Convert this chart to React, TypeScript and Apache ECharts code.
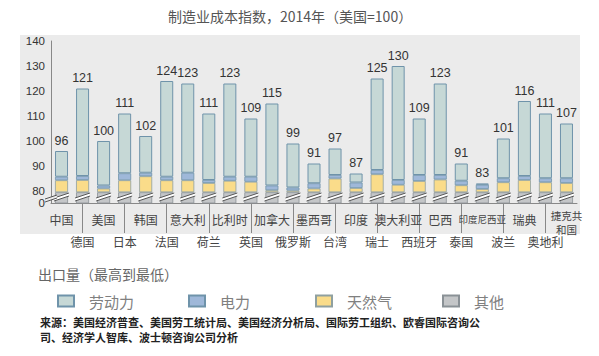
import React, { useEffect, useRef } from "react";
import * as echarts from "echarts";

const categories = ["中国", "德国", "美国", "日本", "韩国", "法国", "意大利", "荷兰", "比利时", "英国", "加拿大", "俄罗斯", "墨西哥", "台湾", "印度", "瑞士", "澳大利亚", "西班牙", "巴西", "泰国", "印度尼西亚", "波兰", "瑞典", "奥地利", "捷克共和国"];
const totals = [96, 121, 100, 111, 102, 124, 123, 111, 123, 109, 115, 99, 91, 97, 87, 125, 130, 109, 123, 91, 83, 101, 116, 111, 107];
const otherCost = [79.5, 79.5, 79.5, 79.5, 79.5, 79.5, 79.5, 79.5, 79.5, 79.5, 79.5, 79.5, 79.5, 79.5, 79.5, 79.5, 79.5, 79.5, 79.5, 79.5, 79.5, 79.5, 79.5, 79.5, 79.5];
const gasCost = [4.8, 4.9, 1.5, 4.8, 6.4, 4.8, 4.8, 3.7, 4.6, 4.2, 0.8, 0.7, 1.5, 5.5, 1.7, 7.2, 3.0, 4.5, 5.1, 2.8, 1.3, 4.0, 4.9, 4.0, 3.7];
const electricityCost = [1.4, 1.6, 1.2, 2.8, 1.4, 1.4, 3.0, 1.2, 1.6, 2.0, 1.9, 1.2, 2.1, 1.4, 2.2, 1.7, 1.9, 2.4, 1.8, 1.8, 1.7, 1.6, 1.6, 1.6, 1.9];
const yTicks = [80, 90, 100, 110, 120, 130, 140];
const yBreakLabel = "0";
const yBreakLabelValue = 75.4;
const breakMarkValue = 77.6;
const seriesNames = ["劳动力", "电力", "天然气", "其他"];

const title = "制造业成本指数，2014年（美国=100）";
const subTitle = "出口量（最高到最低）";
const sourceText = "来源：美国经济普查、美国劳工统计局、美国经济分析局、国际劳工组织、欧睿国际咨询公\n司、经济学人智库、波士顿咨询公司分析";

const laborCost = totals.map((t, i) => +(t - otherCost[i] - gasCost[i] - electricityCost[i]).toFixed(2));

const CJK = '"Noto Sans CJK SC", "Liberation Sans", sans-serif';
const NUM = '"Liberation Sans Narrow", "Liberation Sans", Arial, sans-serif';

export default function App() {
  const ref = useRef<HTMLDivElement>(null);
  useEffect(() => {
    if (!ref.current) return;
    const chart = echarts.init(ref.current, null, { renderer: "svg" });
    const border = "#6f93aa";
    const barW = 13;
    const legendLefts = [57, 188, 315, 442];
    const yMin = 75.2;
    const yMax = 140;
    const yLabelStyle = { fontFamily: NUM, fontSize: 11.5, lineHeight: 11, color: "#333", margin: 6 };
    const option: any = {
      animation: false,
      backgroundColor: "#ffffff",
      title: {
        text: title,
        left: 163,
        top: 4,
        textStyle: { fontFamily: CJK, fontSize: 14, fontWeight: "normal", color: "#555" },
      },
      graphic: [
        {
          type: "rect",
          z: -10,
          zlevel: 0,
          shape: { x: 20, y: 35, width: 560, height: 199 },
          style: { fill: "#ebebeb" },
          silent: true,
        },
        {
          type: "text",
          left: 38,
          top: 267,
          style: { text: subTitle, fontFamily: CJK, fontSize: 14, fill: "#666" },
        },
        {
          type: "text",
          left: 40,
          top: 314,
          style: { text: sourceText, fontFamily: CJK, fontSize: 11, lineHeight: 15, fill: "#222", fontWeight: "bold" },
        },
      ],
      legend: seriesNames.map((n, i) => ({
        data: [n],
        left: legendLefts[i],
        top: 293,
        padding: 0,
        itemWidth: 16,
        itemHeight: 11,
        icon: "rect",
        textStyle: { fontFamily: CJK, fontSize: 15, lineHeight: 16, color: "#808080", padding: [0, 0, 0, 10] },
      })),
      grid: { left: 51, right: 22, top: 41, bottom: 153, containLabel: false },
      xAxis: [
        {
          type: "category",
          data: categories,
          axisLine: { lineStyle: { color: "#888", width: 1 } },
          axisTick: {
            show: true,
            alignWithLabel: true,
            length: 30,
            interval: (i: number) => i % 2 === 1,
            lineStyle: { color: "#888" },
          },
          axisLabel: {
            interval: (i: number) => i % 2 === 0,
            margin: 5,
            hideOverlap: false,
            fontFamily: CJK,
            fontSize: 12,
            color: "#444",
            lineHeight: 22,
            formatter: (v: string) => {
              if (v === "捷克共和国") return "{c|捷克共}\n{c|和国}";
              if (v === "印度尼西亚") return "{s|" + v + "}";
              return v;
            },
            rich: {
              c: { fontFamily: CJK, fontSize: 10.5, lineHeight: 14, color: "#444" },
              s: { fontFamily: CJK, fontSize: 9.5, lineHeight: 22, color: "#444" },
            },
          },
        },
        {
          type: "category",
          data: categories,
          position: "bottom",
          offset: 0,
          axisLine: { show: false },
          axisTick: { show: false },
          axisLabel: {
            interval: (i: number) => i % 2 === 1,
            margin: 31,
            hideOverlap: false,
            fontFamily: CJK,
            fontSize: 12,
            lineHeight: 14,
            color: "#444",
          },
        },
      ],
      yAxis: [
        {
          type: "value",
          min: yMin,
          max: yMax,
          splitLine: { show: false },
          axisTick: { show: false },
          axisLine: { show: true, lineStyle: { color: "#888" } },
          axisLabel: { customValues: yTicks, hideOverlap: false, ...yLabelStyle },
        },
        {
          type: "value",
          min: yMin,
          max: yMax,
          position: "left",
          offset: 0,
          splitLine: { show: false },
          axisTick: { show: false },
          axisLine: { show: false },
          axisLabel: {
            customValues: [yBreakLabelValue],
            formatter: () => yBreakLabel,
            ...yLabelStyle,
          },
        },
      ],
      series: [
        {
          name: "其他",
          type: "bar",
          stack: "cost",
          barWidth: barW,
          data: otherCost,
          itemStyle: { color: "#c4c6c8", borderColor: "#8a9196", borderWidth: 0.8 },
        },
        {
          name: "天然气",
          type: "bar",
          stack: "cost",
          barWidth: barW,
          data: gasCost,
          itemStyle: { color: "#fadc8a", borderColor: "#8fa0a0", borderWidth: 0.8 },
        },
        {
          name: "电力",
          type: "bar",
          stack: "cost",
          barWidth: barW,
          data: electricityCost,
          itemStyle: { color: "#9fb8d9", borderColor: border, borderWidth: 0.8 },
        },
        {
          name: "劳动力",
          type: "bar",
          stack: "cost",
          barWidth: barW,
          data: laborCost,
          itemStyle: { color: "#c6d8d6", borderColor: border, borderWidth: 1 },
          label: {
            show: true,
            position: "top",
            distance: 4,
            fontFamily: NUM,
            fontSize: 12.5,
            color: "#333",
            formatter: (p: any) => String(totals[p.dataIndex]),
          },
        },
        {
          name: "break",
          type: "custom",
          z: 5,
          silent: true,
          data: categories.map((_, i) => [i, breakMarkValue]),
          renderItem: (params: any, api: any) => {
            const p = api.coord([api.value(0), api.value(1)]);
            const cx = p[0];
            const cy = p[1];
            const h = barW / 2 + 1;
            const children: any[] = [
              {
                type: "polygon",
                shape: { points: [[cx - h, cy + 1], [cx + h, cy - 4], [cx + h, cy - 1], [cx - h, cy + 4]] },
                style: { fill: "#ffffff", stroke: null },
              },
              {
                type: "line",
                shape: { x1: cx - h, y1: cy + 1, x2: cx + h, y2: cy - 4 },
                style: { stroke: "#555", lineWidth: 1 },
              },
              {
                type: "line",
                shape: { x1: cx - h, y1: cy + 4, x2: cx + h, y2: cy - 1 },
                style: { stroke: "#555", lineWidth: 1 },
              },
            ];
            if (params.dataIndex === 0) {
              const ax = params.coordSys.x;
              children.push(
                {
                  type: "polygon",
                  shape: { points: [[ax - 6, cy + 2], [ax + 6, cy - 2], [ax + 6, cy + 1], [ax - 6, cy + 5]] },
                  style: { fill: "#ebebeb", stroke: null },
                },
                { type: "line", shape: { x1: ax - 6, y1: cy + 2, x2: ax + 6, y2: cy - 2 }, style: { stroke: "#555", lineWidth: 1 } },
                { type: "line", shape: { x1: ax - 6, y1: cy + 5, x2: ax + 6, y2: cy + 1 }, style: { stroke: "#555", lineWidth: 1 } }
              );
            }
            return { type: "group", children };
          },
        },
      ],
    };
    chart.setOption(option);
    return () => chart.dispose();
  }, []);
  return <div ref={ref} style={{ position: "fixed", left: 0, top: 0, width: 599, height: 356 }} />;
}
